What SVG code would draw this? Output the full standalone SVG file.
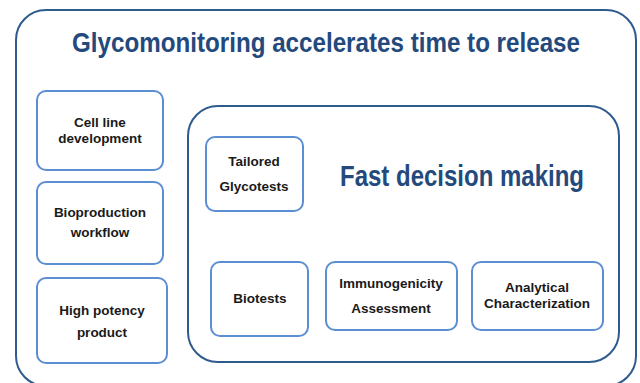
<svg xmlns="http://www.w3.org/2000/svg" width="640" height="383" viewBox="0 0 640 383">
  <style>
    .frame { fill: #ffffff; stroke: #2e5a8e; stroke-width: 2; }
    .box { fill: #ffffff; stroke: #5b8ed3; stroke-width: 2; }
    .head { font-family: "Liberation Sans", Arial, sans-serif; font-weight: bold; fill: #24497c; text-anchor: middle; }
    .lbl { font-family: "Liberation Sans", Arial, sans-serif; font-weight: bold; font-size: 13.5px; fill: #1a1a1a; text-anchor: middle; }
  </style>
  <rect width="640" height="383" fill="#ffffff"/>

  <!-- outer frame -->
  <g id="outer">
    <rect class="frame" x="16" y="10" width="620" height="376" rx="30" ry="30"/>
    <text class="head" x="326" y="52" font-size="27" textLength="508" lengthAdjust="spacingAndGlyphs">Glycomonitoring accelerates time to release</text>
  </g>

  <!-- left column -->
  <g id="cell-line">
    <rect class="box" x="37" y="91" width="126" height="79" rx="9"/>
    <text class="lbl" x="100" y="127">Cell line</text>
    <text class="lbl" x="100" y="143">development</text>
  </g>
  <g id="bioproduction">
    <rect class="box" x="37" y="182" width="126" height="82" rx="9"/>
    <text class="lbl" x="100" y="217">Bioproduction</text>
    <text class="lbl" x="100" y="237">workflow</text>
  </g>
  <g id="high-potency">
    <rect class="box" x="37" y="278" width="130" height="85" rx="9"/>
    <text class="lbl" x="102" y="315">High potency</text>
    <text class="lbl" x="102" y="337">product</text>
  </g>

  <!-- decision frame -->
  <g id="decision">
    <rect class="frame" x="188" y="106" width="431" height="256" rx="30" ry="30"/>
    <text class="head" x="462" y="186" font-size="29" textLength="244" lengthAdjust="spacingAndGlyphs">Fast decision making</text>
  </g>
  <g id="tailored">
    <rect class="box" x="206" y="137" width="97" height="74" rx="9"/>
    <text class="lbl" x="254" y="166">Tailored</text>
    <text class="lbl" x="254" y="191">Glycotests</text>
  </g>
  <g id="biotests">
    <rect class="box" x="211" y="262" width="97" height="74" rx="9"/>
    <text class="lbl" x="260" y="303">Biotests</text>
  </g>
  <g id="immunogenicity">
    <rect class="box" x="326" y="262" width="131" height="68" rx="9"/>
    <text class="lbl" x="391" y="288">Immunogenicity</text>
    <text class="lbl" x="391" y="313">Assessment</text>
  </g>
  <g id="analytical">
    <rect class="box" x="472" y="262" width="131" height="68" rx="9"/>
    <text class="lbl" x="537" y="292">Analytical</text>
    <text class="lbl" x="537" y="308">Characterization</text>
  </g>

  <g id="connectors"></g>
</svg>
